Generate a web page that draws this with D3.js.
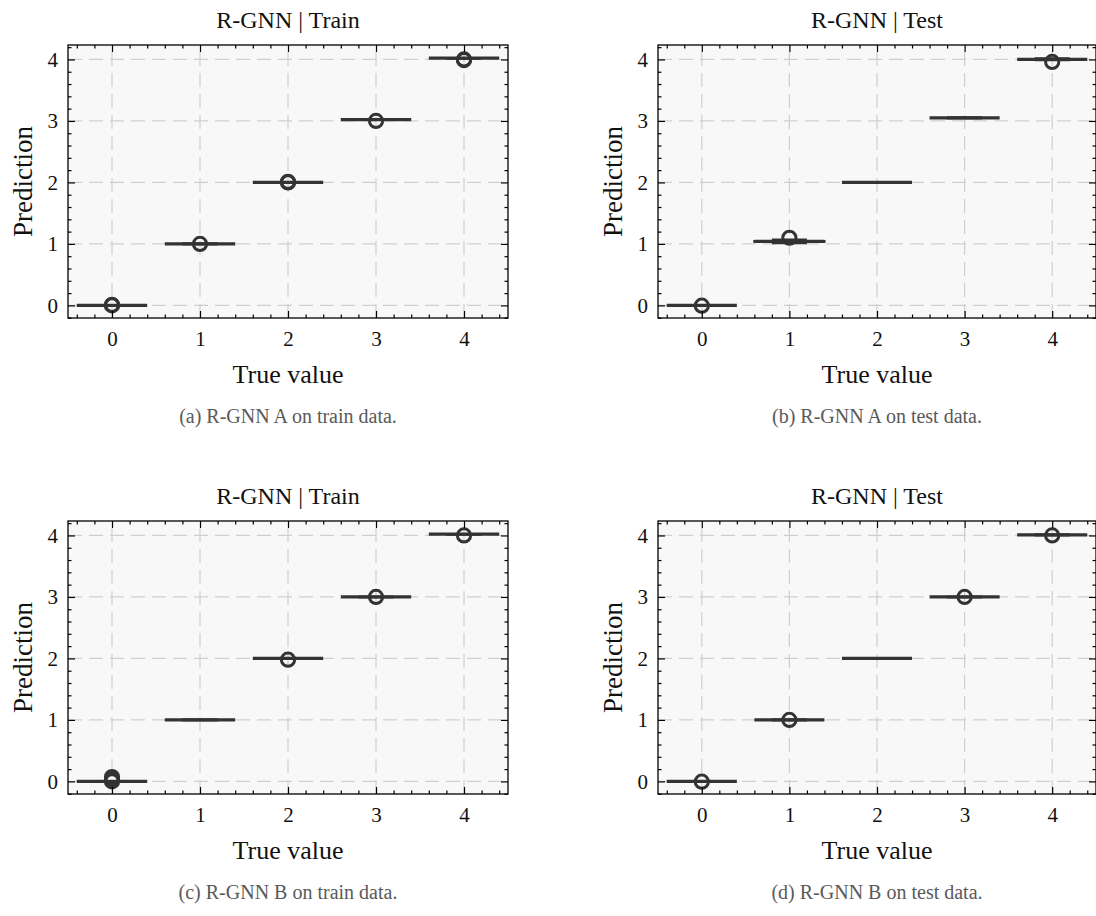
<!DOCTYPE html>
<html>
<head>
<meta charset="utf-8">
<script src="https://cdn.jsdelivr.net/npm/d3@7"></script>
<style>
  body { margin: 0; background: #fff; }
  text { font-family: "Liberation Serif", "Times New Roman", serif; }
</style>
</head>
<body>
<div id="chart"></div>
<script>
// Categories and tick labels
const categories = [0, 1, 2, 3, 4];
const yTicks = [0, 1, 2, 3, 4];
const titles = ["R-GNN | Train", "R-GNN | Test", "R-GNN | Train", "R-GNN | Test"];
const captions = [
  "(a) R-GNN A on train data.",
  "(b) R-GNN A on test data.",
  "(c) R-GNN B on train data.",
  "(d) R-GNN B on test data."
];

// Box stats per category: [whisker low, q1, median, q3, whisker high]
const boxesTrainA = [
  [0, 0, 0, 0, 0],
  [1.0, 1.0, 1.0, 1.0, 1.0],
  [2.0, 2.0, 2.0, 2.0, 2.0],
  [3.02, 3.02, 3.02, 3.02, 3.02],
  [4.02, 4.02, 4.02, 4.02, 4.02]
];
const fliersTrainA = [[0, 0.01], [1.0], [2.0, 2.01], [3.0], [3.99, 4.0]];

const boxesTestA = [
  [0, 0, 0, 0, 0],
  [1.015, 1.035, 1.04, 1.045, 1.065],
  [2.0, 2.0, 2.0, 2.0, 2.0],
  [3.05, 3.05, 3.05, 3.05, 3.05],
  [3.99, 4.0, 4.0, 4.0, 4.015]
];
const fliersTestA = [[-0.005], [1.1], [], [], [3.96]];

const boxesTrainB = [
  [0, 0, 0, 0, 0],
  [1.0, 1.0, 1.0, 1.0, 1.0],
  [2.0, 2.0, 2.0, 2.0, 2.0],
  [3.0, 3.0, 3.0, 3.0, 3.0],
  [4.02, 4.02, 4.02, 4.02, 4.02]
];
const fliersTrainB = [[0, 0.03, 0.07], [], [1.98], [3.0], [4.0]];

const boxesTestB = [
  [0, 0, 0, 0, 0],
  [1.0, 1.0, 1.0, 1.0, 1.0],
  [2.0, 2.0, 2.0, 2.0, 2.0],
  [3.0, 3.0, 3.0, 3.0, 3.0],
  [4.01, 4.01, 4.01, 4.01, 4.01]
];
const fliersTestB = [[-0.005], [1.0], [], [3.0], [4.0]];

const yDomain = [-0.205, 4.235];
const xDomain = [-0.5, 4.5];

const svg = d3.select("#chart")
  .append("svg")
  .attr("width", 1096)
  .attr("height", 916);

const plotH = 273;
const boxColor = "#333";

const panels = [
  { title: titles[0], caption: captions[0], boxes: boxesTrainA, fliers: fliersTrainA, left: 68, top: 45, w: 440 },
  { title: titles[1], caption: captions[1], boxes: boxesTestA, fliers: fliersTestA, left: 658, top: 45, w: 438 },
  { title: titles[2], caption: captions[2], boxes: boxesTrainB, fliers: fliersTrainB, left: 68, top: 521, w: 440 },
  { title: titles[3], caption: captions[3], boxes: boxesTestB, fliers: fliersTestB, left: 658, top: 521, w: 438 }
];

function styleAxis(sel, fontSize) {
  sel.select(".domain").remove();
  sel.selectAll(".tick line").attr("stroke", "#000").attr("stroke-width", 1.2);
  sel.selectAll(".tick text")
    .attr("fill", "#111")
    .style("font-size", fontSize + "px")
    .style("font-family", "'Liberation Serif', serif");
}

function drawPanel(p) {
  const g = svg.append("g").attr("transform", `translate(${p.left},${p.top})`);
  const x = d3.scaleLinear().domain(xDomain).range([0, p.w]);
  const y = d3.scaleLinear().domain(yDomain).range([plotH, 0]);
  const bw = x(0.4) - x(0);

  // background
  g.append("rect").attr("width", p.w).attr("height", plotH).attr("fill", "#f8f8f8");

  // grid
  g.append("g").selectAll("line").data(categories).join("line")
    .attr("x1", d => x(d)).attr("x2", d => x(d))
    .attr("y1", plotH).attr("y2", 0)
    .attr("stroke", "#cfcfcf").attr("stroke-width", 1.2)
    .attr("stroke-dasharray", "14,7");
  g.append("g").selectAll("line").data(yTicks).join("line")
    .attr("x1", 0).attr("x2", p.w)
    .attr("y1", d => y(d)).attr("y2", d => y(d))
    .attr("stroke", "#cfcfcf").attr("stroke-width", 1.2)
    .attr("stroke-dasharray", "14,7");

  // boxes
  categories.forEach((c, i) => {
    const [lo, q1, med, q3, hi] = p.boxes[i];
    const bg = g.append("g").attr("stroke", boxColor).attr("fill", "none");
    // whiskers
    bg.append("line").attr("x1", x(c)).attr("x2", x(c)).attr("y1", y(q1)).attr("y2", y(lo)).attr("stroke-width", 2.6);
    bg.append("line").attr("x1", x(c)).attr("x2", x(c)).attr("y1", y(q3)).attr("y2", y(hi)).attr("stroke-width", 2.6);
    // caps
    bg.append("line").attr("x1", x(c) - bw / 2).attr("x2", x(c) + bw / 2).attr("y1", y(lo)).attr("y2", y(lo)).attr("stroke-width", 2.6);
    bg.append("line").attr("x1", x(c) - bw / 2).attr("x2", x(c) + bw / 2).attr("y1", y(hi)).attr("y2", y(hi)).attr("stroke-width", 2.6);
    // box
    bg.append("rect")
      .attr("x", x(c) - bw).attr("width", 2 * bw)
      .attr("y", y(q3)).attr("height", Math.max(0, y(q1) - y(q3)))
      .attr("stroke-width", 2.2);
    // median
    bg.append("line").attr("x1", x(c) - bw).attr("x2", x(c) + bw).attr("y1", y(med)).attr("y2", y(med)).attr("stroke-width", 3.3);
    // fliers
    bg.selectAll("circle").data(p.fliers[i]).join("circle")
      .attr("cx", x(c)).attr("cy", d => y(d)).attr("r", 6.6)
      .attr("stroke-width", 3);
  });

  // axes: major + minor ticks, inward on all sides
  const minorX = d3.range(-0.4, 4.5, 0.2).filter(v => Math.abs(v - Math.round(v)) > 0.01);
  const minorY = d3.range(-0.2, 4.25, 0.2).filter(v => Math.abs(v - Math.round(v)) > 0.01 && v >= yDomain[0]);

  g.append("g").attr("transform", `translate(0,${plotH})`)
    .call(d3.axisBottom(x).tickValues(categories).tickSize(-7).tickPadding(13).tickFormat(d3.format("d")))
    .call(s => styleAxis(s, 21));
  g.append("g").attr("transform", `translate(0,${plotH})`)
    .call(d3.axisBottom(x).tickValues(minorX).tickSize(-3.5).tickFormat(() => ""))
    .call(s => styleAxis(s, 21));
  g.append("g")
    .call(d3.axisTop(x).tickValues(categories).tickSize(-7).tickFormat(() => ""))
    .call(s => styleAxis(s, 21));
  g.append("g")
    .call(d3.axisTop(x).tickValues(minorX).tickSize(-3.5).tickFormat(() => ""))
    .call(s => styleAxis(s, 21));

  g.append("g")
    .call(d3.axisLeft(y).tickValues(yTicks).tickSize(-7).tickPadding(10).tickFormat(d3.format("d")))
    .call(s => styleAxis(s, 21));
  g.append("g")
    .call(d3.axisLeft(y).tickValues(minorY).tickSize(-3.5).tickFormat(() => ""))
    .call(s => styleAxis(s, 21));
  g.append("g").attr("transform", `translate(${p.w},0)`)
    .call(d3.axisRight(y).tickValues(yTicks).tickSize(-7).tickFormat(() => ""))
    .call(s => styleAxis(s, 21));
  g.append("g").attr("transform", `translate(${p.w},0)`)
    .call(d3.axisRight(y).tickValues(minorY).tickSize(-3.5).tickFormat(() => ""))
    .call(s => styleAxis(s, 21));

  // frame
  g.append("rect").attr("width", p.w).attr("height", plotH)
    .attr("fill", "none").attr("stroke", "#000").attr("stroke-width", 1.3);

  // labels
  g.append("text")
    .attr("x", p.w / 2).attr("y", -17)
    .attr("text-anchor", "middle")
    .style("font-size", "24px").attr("fill", "#111")
    .text(p.title);
  g.append("text")
    .attr("x", p.w / 2).attr("y", plotH + 65)
    .attr("text-anchor", "middle")
    .style("font-size", "26px").attr("fill", "#111")
    .text("True value");
  g.append("text")
    .attr("transform", `translate(-36,${plotH / 2}) rotate(-90)`)
    .attr("text-anchor", "middle")
    .style("font-size", "27px").attr("fill", "#111")
    .text("Prediction");
  g.append("text")
    .attr("x", p.w / 2).attr("y", 378)
    .attr("text-anchor", "middle")
    .style("font-size", "20px").attr("fill", "#5a5a5a")
    .text(p.caption);
}

panels.forEach(drawPanel);
</script>
</body>
</html>
